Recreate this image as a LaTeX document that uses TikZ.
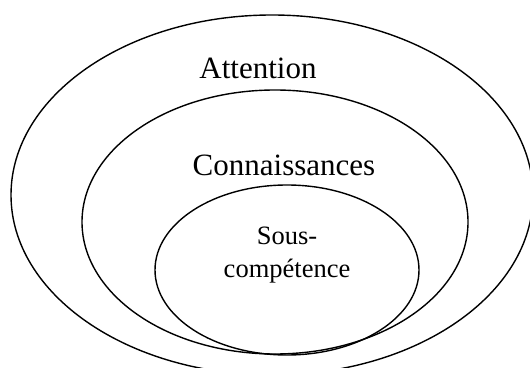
\documentclass[tikz,border=0pt]{standalone}
\usepackage{fontspec}
\setmainfont{Liberation Serif}
\usepackage{tikz}
\usetikzlibrary{positioning}

\begin{document}
\begin{tikzpicture}[x=1pt, y=1pt, line width=1.4pt]
        \useasboundingbox (0,0) rectangle (530,367);
        \foreach \cx/\cy/\rx/\ry in {272/172/261/180, 275/145/193/132, 287/97/132/85} {
            \draw (\cx,\cy) ellipse [x radius=\rx, y radius=\ry];
        }
        \node[anchor=base] (attention) at (258,288) {\fontsize{31}{37}\selectfont Attention};
        \node[anchor=base] (connaissances) at (284,191) {\fontsize{31}{37}\selectfont Connaissances};
        \node[align=center, font=\fontsize{26.5}{33}\selectfont] (souscomp) at (287,112) {Sous-\\compétence};
    \end{tikzpicture}
\end{document}
